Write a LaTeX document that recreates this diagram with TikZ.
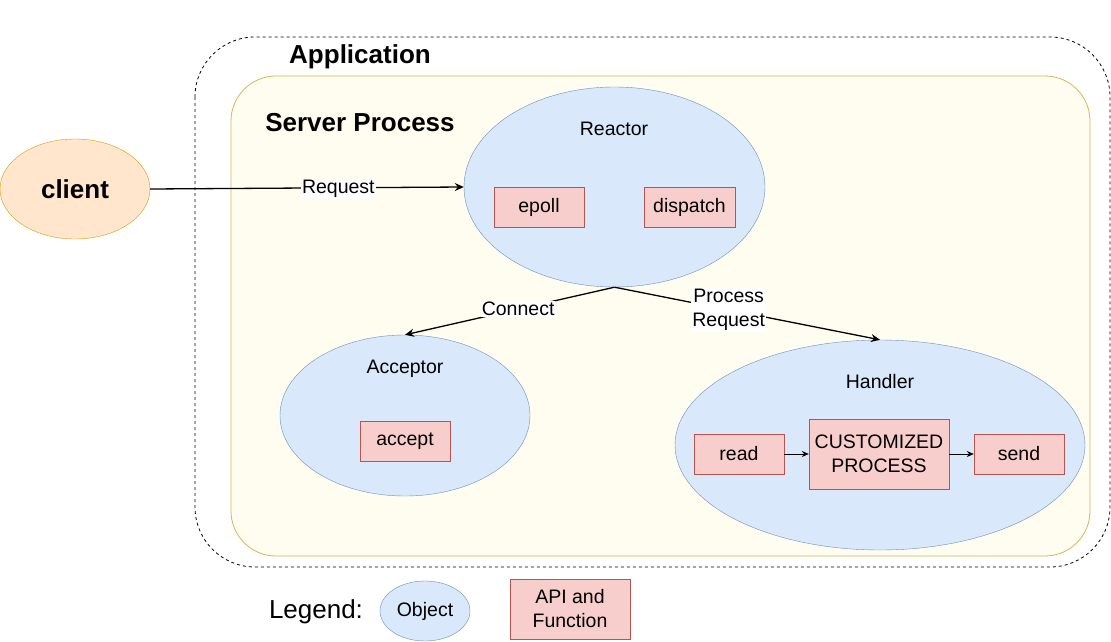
\documentclass[tikz,border=0pt]{standalone}
\usepackage{fontspec}
\setmainfont{Liberation Sans}
\usetikzlibrary{arrows.meta,shapes.geometric}
\definecolor{objfill}{HTML}{DAE8FC}
\definecolor{objdraw}{HTML}{6C8EBF}
\definecolor{apifill}{HTML}{F8CECC}
\definecolor{apidraw}{HTML}{B85450}
\definecolor{cfill}{HTML}{FFE6CC}
\definecolor{cdraw}{HTML}{D79B00}
\definecolor{spfill}{HTML}{FEFDEF}
\definecolor{spdraw}{HTML}{D6B656}
\tikzset{
  obj/.style={ellipse, draw=objdraw, fill=objfill, inner sep=0pt},
  api/.style={rectangle, draw=apidraw, fill=apifill, inner sep=0pt, align=center, font=\fontsize{19.5}{22}\selectfont},
  lbl/.style={font=\fontsize{19.5}{22}\selectfont},
  conn/.style={draw=black, line width=1.3pt, -{Stealth[length=9pt,width=8pt]}},
  small/.style={draw=black, line width=1pt, -{Stealth[length=7pt,width=6pt]}},
  elab/.style={fill=white, inner sep=1pt, font=\fontsize{19.5}{22}\selectfont, align=center},
  title/.style={font=\fontsize{26}{29}\selectfont\bfseries}
}
\begin{document}
\begin{tikzpicture}[x=1pt,y=-1pt]
\useasboundingbox (0,0) rectangle (1111,642);
\fill[white] (0,0) rectangle (1111,642);
% Application
\draw[dashed, line width=0.8pt, rounded corners=60pt] (195,37) rectangle (1110,567);
\node[title] (app) at (360,57) {Application};
% Server process
\draw[draw=spdraw, fill=spfill, line width=0.8pt, rounded corners=45pt] (231,76) rectangle (1090,556);
\node[title] (sp) at (360,123) {Server Process};
% client
\node[ellipse, draw=cdraw, fill=cfill, minimum width=150pt, minimum height=100pt, inner sep=0pt, font=\fontsize{26}{29}\selectfont\bfseries] (client) at (75,189) {client};
% Reactor
\node[obj, minimum width=301pt, minimum height=200pt] (reactor) at (614.5,187) {};
\node[lbl] (reactorl) at (614,129) {Reactor};
\node[api, minimum width=90pt, minimum height=40pt] (epoll) at (539,207) {epoll};
\node[api, minimum width=91pt, minimum height=40pt] (dispatch) at (689.5,207) {dispatch};
% Acceptor
\node[obj, minimum width=250pt, minimum height=161pt] (acceptor) at (405,415.5) {};
\node[lbl] (acceptorl) at (405,369) {Acceptor};
\node[api, minimum width=90pt, minimum height=40pt] (accept) at (405,441) {accept};
% Handler
\node[obj, minimum width=410pt, minimum height=210pt] (handler) at (880,445) {};
\node[lbl] (handlerl) at (880,382) {Handler};
\node[api, minimum width=90pt, minimum height=40pt] (read) at (739,454) {read};
\node[api, minimum width=140pt, minimum height=70pt, font=\fontsize{19.5}{24}\selectfont] (cp) at (879,454) {CUSTOMIZED\\PROCESS};
\node[api, minimum width=90pt, minimum height=40pt] (send) at (1019,454) {send};
\draw[small] (read) -- (cp);
\draw[small] (cp) -- (send);
% connectors
\draw[conn] (client.east) -- (reactor.west) node[elab, pos=0.6, yshift=-1.5pt] {Request};
\draw[conn] (reactor.south) -- (acceptor.north) node[elab, pos=0.46] {Connect};
\draw[conn] (reactor.south) -- (handler.north) node[elab, pos=0.43, font=\fontsize{19.5}{24}\selectfont] {Process\\Request};
% Legend
\node[font=\fontsize{26}{30}\selectfont] (legend) at (316,612) {Legend:};
\node[obj, minimum width=90pt, minimum height=60pt, font=\fontsize{19.5}{22}\selectfont] (lobj) at (425,611) {Object};
\node[api, minimum width=120pt, minimum height=60pt, font=\fontsize{19.5}{24}\selectfont] (lapi) at (570,609) {API and\\Function};
\end{tikzpicture}
\end{document}
